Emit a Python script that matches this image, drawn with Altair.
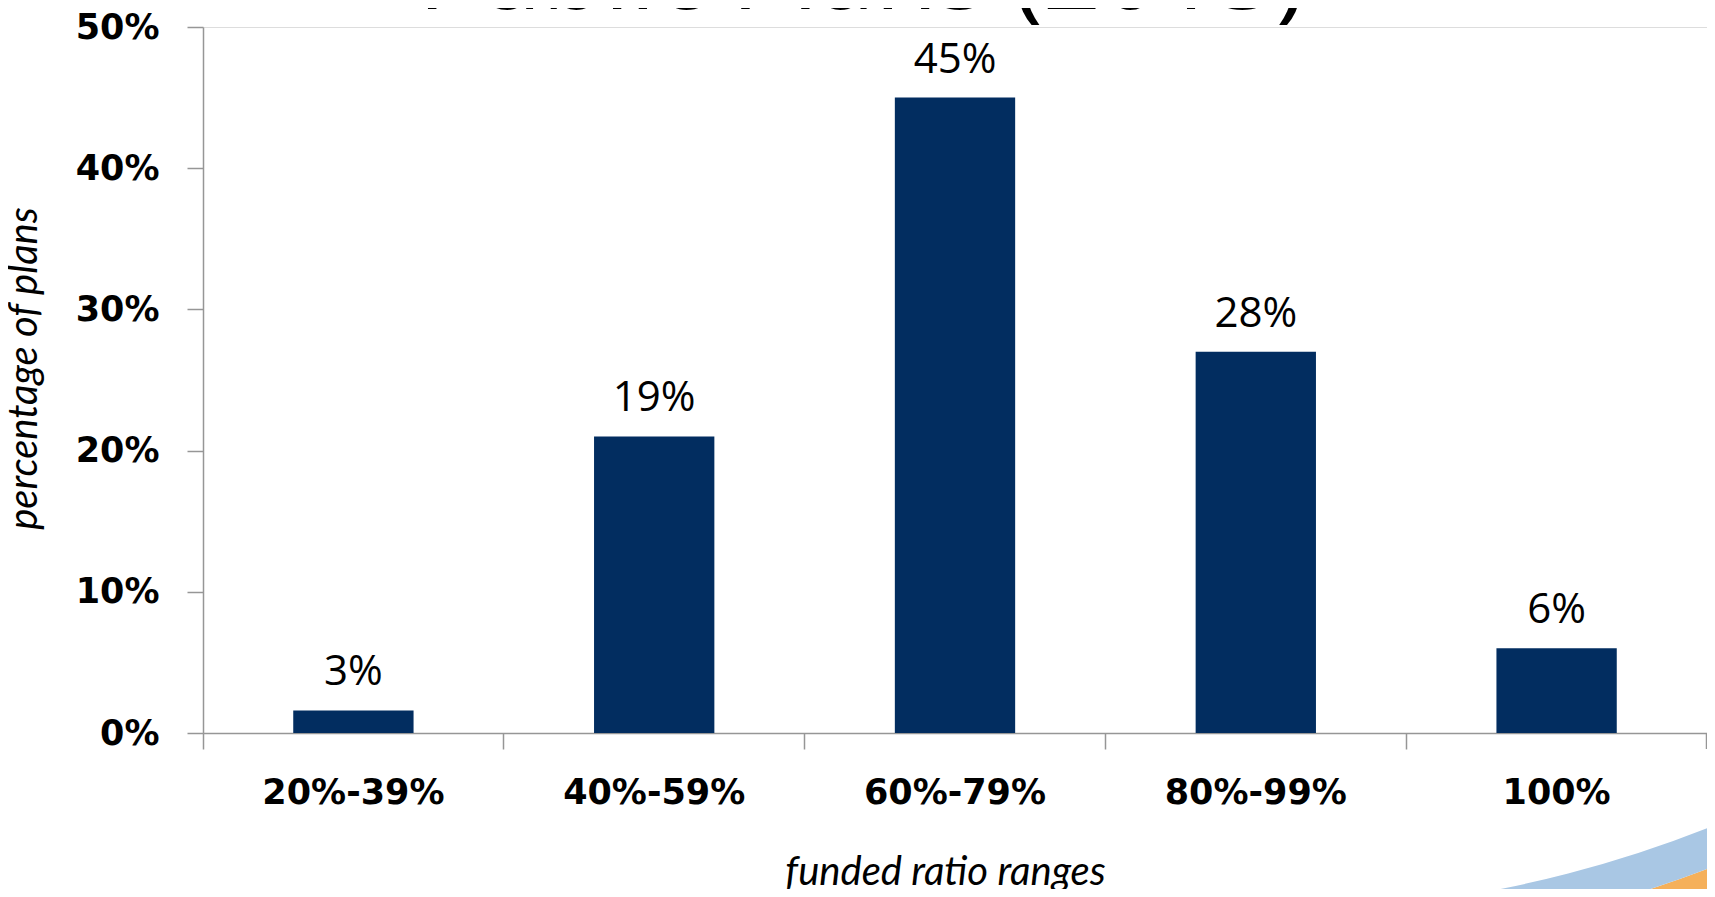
import altair as alt
import pandas as pd

categories = ["20%-39%", "40%-59%", "60%-79%", "80%-99%", "100%"]
bar_values = [0.016, 0.21, 0.45, 0.27, 0.06]
bar_labels = ["3%", "19%", "45%", "28%", "6%"]
y_ticks = [0, 0.1, 0.2, 0.3, 0.4, 0.5]
title_text = "Public Plans (2013)"

df = pd.DataFrame({"range": categories, "value": bar_values, "label": bar_labels})

W, H = 1504, 706

x_enc = alt.X(
    "range:N",
    sort=categories,
    scale=alt.Scale(paddingInner=0, paddingOuter=0),
    axis=alt.Axis(
        title="funded ratio ranges",
        titleFont="Lato",
        titleFontStyle="italic",
        titleFontWeight="normal",
        titleFontSize=40,
        titleColor="#000000",
        titleX=742,
        titleY=151,
        titleBaseline="alphabetic",
        titleAlign="center",
        labelFont="DejaVu Sans",
        labelFontWeight="bold",
        labelFontSize=35,
        labelColor="#000000",
        labelAngle=0,
        labelPadding=26,
        labelLimit=0,
        labelBaseline="top",
        bandPosition=0,
        tickSize=16,
        tickColor="#969696",
        tickWidth=1.5,
        domainColor="#969696",
        domainWidth=1.5,
    ),
)

y_enc = alt.Y(
    "value:Q",
    scale=alt.Scale(domain=[0, 0.5], nice=False),
    axis=alt.Axis(
        values=y_ticks,
        format=".0%",
        title="percentage of plans",
        titleFont="Lato",
        titleFontStyle="italic",
        titleFontWeight="normal",
        titleFontSize=40,
        titleColor="#000000",
        titleAngle=270,
        titleX=-167,
        titleY=341,
        titleAlign="center",
        titleBaseline="alphabetic",
        labelFont="DejaVu Sans",
        labelFontWeight="bold",
        labelFontSize=35,
        labelColor="#000000",
        labelPadding=28,
        tickSize=16,
        tickColor="#969696",
        tickWidth=1.5,
        domainColor="#969696",
        domainWidth=1.5,
        grid=False,
    ),
)

one = pd.DataFrame({"k": [0]})

swoosh_blue = alt.Chart(one).mark_arc(
    color="#a9c7e4", radius=1236, radius2=1198, theta=2.2, theta2=3.3
).encode(x=alt.value(1064), y=alt.value(-313))

swoosh_orange = alt.Chart(one).mark_arc(
    color="#f5b05a", radius=1700, radius2=1236, theta=2.2, theta2=3.3
).encode(x=alt.value(1064), y=alt.value(-313))

bars = alt.Chart(df).mark_bar(
    color="#022d60", width=alt.RelativeBandSize(0.4)
).encode(x=x_enc, y=y_enc)

labels = alt.Chart(df).mark_text(
    font="Open Sans", fontSize=42, color="#000000", dy=-25, baseline="alphabetic"
).encode(x=alt.X("range:N", sort=categories), y="value:Q", text="label:N")

end_tick = alt.Chart(one).mark_rule(color="#969696", strokeWidth=1.5).encode(
    x=alt.value(W - 0.5), y=alt.value(H), y2=alt.value(H + 16)
)

title = alt.Chart(pd.DataFrame({"t": [title_text]})).mark_text(
    font="Open Sans", fontSize=102, color="#000000", baseline="alphabetic",
    align="center", clip=False
).encode(text="t:N", x=alt.value(659), y=alt.value(-18))

chart = (
    alt.layer(swoosh_orange, swoosh_blue, bars, labels, end_tick, title)
    .properties(
        width=W,
        height=H,
        autosize=alt.AutoSizeParams(type="none"),
        padding={"left": 195, "top": 19, "right": 0, "bottom": 156},
    )
    .configure_view(stroke=None)
    .configure(background="white")
)

chart.save("out.html", embed_options={"renderer": "svg", "actions": False})
